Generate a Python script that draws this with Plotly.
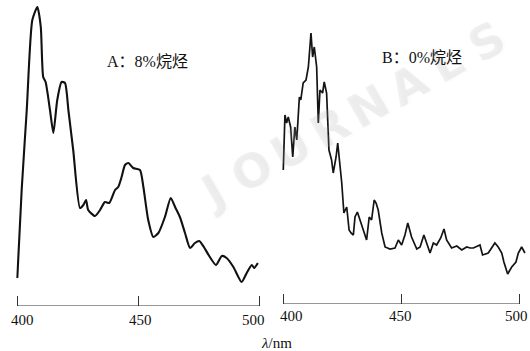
import plotly.graph_objects as go

# Spectrum A: 8% alkane (wavelength in nm, relative intensity in a.u.)
wavelength_a = [400.0, 401.8, 403.9, 406.2, 408.3, 409.7, 410.7, 411.7, 413.5, 414.9,
                416.5, 418.3, 419.7, 421.1, 423.1, 425.9, 427.3, 428.4, 429.3, 432.1,
                434.2, 436.2, 438.0, 440.4, 441.7, 443.1, 444.5, 445.9, 447.9, 450.7,
                452.1, 454.1, 456.2, 458.3, 461.0, 463.4, 465.2, 467.2, 469.3, 471.4,
                473.4, 475.2, 477.1, 479.3, 482.1, 484.5, 486.5, 489.3, 492.7, 494.8,
                496.9, 497.9, 499.4]
intensity_a = [28, 116, 196, 286, 299, 279, 229, 224, 196, 173,
               206, 224, 223, 196, 156, 98, 101, 106, 96, 90,
               96, 104, 103, 116, 119, 129, 141, 143, 138, 136,
               119, 86, 69, 73, 89, 108, 99, 89, 73, 58,
               63, 65, 59, 50, 41, 50, 48, 39, 24, 33,
               41, 38, 43]

# Spectrum B: 0% alkane
wavelength_b = [400.0, 400.7, 401.4, 402.1, 403.1, 404.0, 404.9, 405.7, 406.8, 407.4,
                408.4, 409.6, 410.6, 411.3, 411.7, 412.4, 413.1, 414.1, 414.8, 415.5,
                416.6, 417.3, 418.3, 419.3, 420.4, 421.1, 422.3, 423.0, 424.0, 424.7,
                425.6, 426.8, 427.8, 428.6, 429.6, 430.3, 431.3, 432.4, 433.8, 435.2,
                436.3, 437.3, 438.4, 439.2, 440.1, 441.6, 443.0, 445.1, 447.2, 448.6,
                450.0, 451.4, 452.6, 454.2, 456.4, 457.8, 459.4, 460.6, 462.0, 463.4,
                464.8, 466.5, 467.9, 469.0, 471.1, 473.3, 475.4, 477.5, 478.9, 480.3,
                483.1, 484.2, 486.6, 489.4, 490.8, 492.3, 493.2, 494.8, 496.5, 498.3,
                499.3, 500.7, 502.1]
intensity_b = [134, 189, 181, 187, 177, 147, 177, 164, 207, 204,
               221, 224, 237, 267, 271, 247, 257, 237, 181, 214,
               211, 222, 211, 154, 144, 131, 147, 161, 141, 121,
               91, 97, 74, 71, 69, 87, 92, 84, 76, 64,
               87, 84, 104, 101, 94, 71, 57, 55, 56, 64,
               59, 69, 81, 67, 55, 57, 69, 61, 51, 61,
               59, 66, 75, 64, 56, 58, 54, 57, 56, 56,
               59, 49, 51, 61, 57, 51, 42, 30, 37, 42,
               51, 57, 51]

tick_values = [400, 450, 500]
tick_text = ["400", "450", "500"]
axis_start, axis_end = 400, 500

label_a = "A：8%烷烃"
label_b = "B：0%烷烃"
x_title = "<i>λ</i>/nm"
watermark = "JOURNALS"

W, H = 530, 351
serif = "Liberation Serif, Times New Roman, Noto Sans CJK SC, serif"
ink = "#111111"

fig = go.Figure()
fig.add_trace(go.Scatter(x=wavelength_a, y=intensity_a, mode="lines",
                         line=dict(color=ink, width=2.1, shape="spline", smoothing=0.6),
                         xaxis="x", yaxis="y", showlegend=False, hoverinfo="skip"))
fig.add_trace(go.Scatter(x=wavelength_b, y=intensity_b, mode="lines",
                         line=dict(color="#141414", width=1.7),
                         xaxis="x2", yaxis="y2", showlegend=False, hoverinfo="skip"))

xcommon = dict(showgrid=False, zeroline=False, showline=False, automargin=False,
               ticks="inside", ticklen=10, tickwidth=1.2, tickcolor="#333333",
               tickvals=tick_values, showticklabels=False)
ycommon = dict(visible=False, showgrid=False, zeroline=False, automargin=False)

fig.update_layout(
    width=W, height=H,
    margin=dict(l=0, r=0, t=0, b=0, autoexpand=False),
    paper_bgcolor="white", plot_bgcolor="rgba(0,0,0,0)",
    xaxis=dict(domain=[16.1 / W, 260.5 / W], range=[399.5, 500.5], anchor="y", **xcommon),
    yaxis=dict(domain=[45 / H, 1], range=[0, 306], anchor="x", **ycommon),
    xaxis2=dict(domain=[282.1 / W, 525.9 / W], range=[399.5, 502.5], anchor="y2", **xcommon),
    yaxis2=dict(domain=[47 / H, 1], range=[0, 304], anchor="x2", **ycommon),
)

# baselines spanning 400-500 nm on each panel
for xr, yr in (("x", "y"), ("x2", "y2")):
    fig.add_shape(type="line", xref=xr, yref=yr, x0=axis_start, x1=axis_end, y0=0, y1=0,
                  line=dict(color="#333333", width=1.2))

# tick labels sit under each tick, end labels nudged inward
panels = [("x", "y", [5, 2, -6], 14), ("x2", "y2", [8, -1, -3], 12)]
for xr, yr, nudges, drop in panels:
    for val, txt, dx in zip(tick_values, tick_text, nudges):
        fig.add_annotation(x=val, y=0, xref=xr, yref=yr, text=txt, showarrow=False,
                           xanchor="center", yanchor="middle", xshift=dx, yshift=-drop,
                           font=dict(family=serif, size=15, color=ink))

# faint diagonal watermark, one letter at a time
start, stop = (212, 192), (486, 42)
n = len(watermark)
for i, ch in enumerate(watermark):
    t = i / (n - 1)
    px = start[0] + t * (stop[0] - start[0])
    py = start[1] + t * (stop[1] - start[1])
    fig.add_annotation(x=px / W, y=1 - py / H, xref="paper", yref="paper",
                       text=ch, showarrow=False, textangle=-30,
                       xanchor="center", yanchor="middle",
                       font=dict(family="DejaVu Sans", size=46, weight="bold",
                                 color="rgba(175,175,175,0.2)",
                                 shadow="2px 2px 2px rgba(0,0,0,0.08)"))

fig.add_annotation(x=147.5 / W, y=1 - 61 / H, xref="paper", yref="paper",
                   text=label_a, showarrow=False, xanchor="center", yanchor="middle",
                   font=dict(family=serif, size=16, color=ink))
fig.add_annotation(x=422 / W, y=1 - 58 / H, xref="paper", yref="paper",
                   text=label_b, showarrow=False, xanchor="center", yanchor="middle",
                   font=dict(family=serif, size=16, color=ink))
fig.add_annotation(x=276.5 / W, y=1 - 343 / H, xref="paper", yref="paper",
                   text=x_title, showarrow=False, xanchor="center", yanchor="middle",
                   font=dict(family=serif, size=15, color=ink))

fig.write_html("out.html")
